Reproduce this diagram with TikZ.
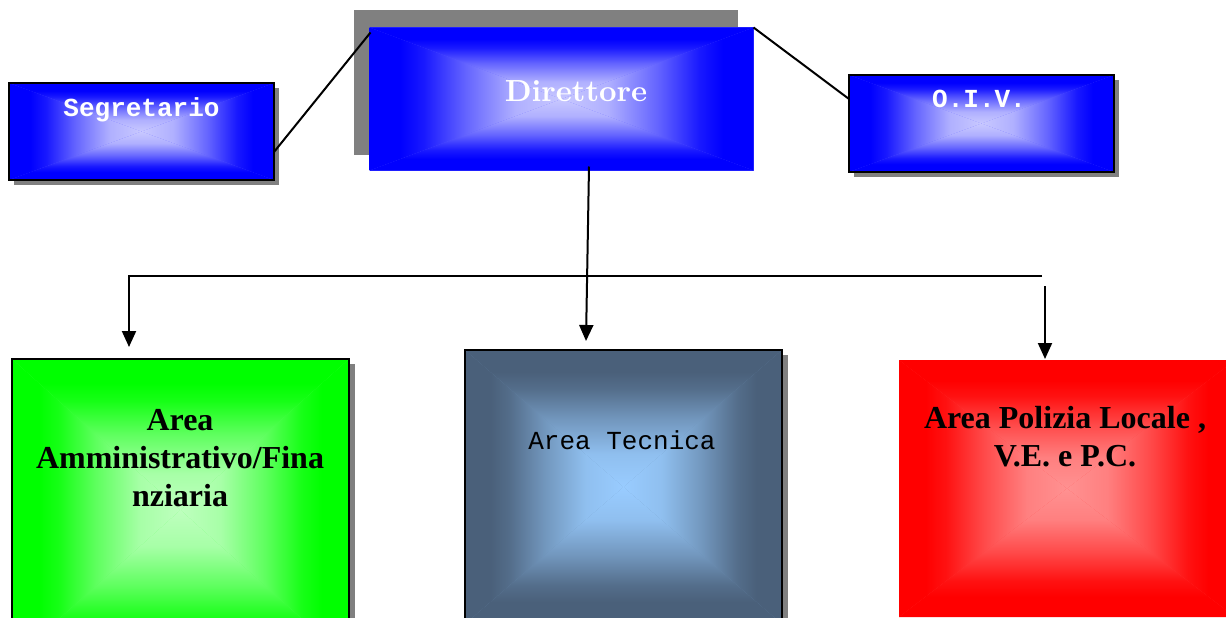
\documentclass[tikz,border=0pt]{standalone}
\usepackage{fontspec}
\newfontfamily\timesf{Liberation Serif}
\newfontfamily\courf{Liberation Mono}
\newfontfamily\dirfont{lmroman10-bold.otf}
\usetikzlibrary{arrows.meta}
\definecolor{bOut}{RGB}{0,0,255}
\definecolor{bIn}{RGB}{200,200,255}
\definecolor{gOut}{RGB}{0,255,0}
\definecolor{gIn}{RGB}{190,255,190}
\definecolor{tOut}{RGB}{74,96,122}
\definecolor{tIn}{RGB}{153,204,255}
\definecolor{rOut}{RGB}{255,0,0}
\definecolor{rIn}{RGB}{255,145,145}
\definecolor{shad}{RGB}{128,128,128}
\newcommand\mkshade[3]{%
  \pgfdeclareverticalshading{#1V}{100bp}{color(0bp)=(#3); color(25bp)=(#3); color(37bp)=(#2!12!#3); color(50bp)=(#2!50!#3); color(61bp)=(#2!88!#3); color(67bp)=(#2); color(100bp)=(#2)}%
  \pgfdeclarehorizontalshading{#1H}{100bp}{color(0bp)=(#2); color(33bp)=(#2); color(39bp)=(#2!88!#3); color(50bp)=(#2!50!#3); color(63bp)=(#2!12!#3); color(75bp)=(#3); color(100bp)=(#3)}%
}
\mkshade{blu}{bOut}{bIn}
\mkshade{grn}{gOut}{gIn}
\mkshade{tec}{tOut}{tIn}
\mkshade{red}{rOut}{rIn}
\newcommand\gradfill[4]{%
  \fill[#3!55!#4] (#1.north west) rectangle (#1.south east);
  \shade[shading=#2V] (#1.north west) -- (#1.north east) -- (#1.center) -- cycle;
  \shade[shading=#2V, shading angle=180] (#1.south west) -- (#1.south east) -- (#1.center) -- cycle;
  \shade[shading=#2H] (#1.north west) -- (#1.south west) -- (#1.center) -- cycle;
  \shade[shading=#2H, shading angle=180] (#1.north east) -- (#1.south east) -- (#1.center) -- cycle;
}
\tikzset{
  frame/.style={inner sep=0pt, outer sep=0pt, draw=none},
  border/.style={draw=black, line width=2pt},
  link/.style={draw=black, line width=2pt},
  arrowlink/.style={draw=black, line width=2pt, -{Triangle[width=14pt,length=16pt]}},
  whitemono/.style={anchor=base, inner sep=0pt, text=white, font=\courf\bfseries\fontsize{26}{30}\selectfont},
  blackserif/.style={anchor=base, inner sep=0pt, text=black, font=\timesf\bfseries\fontsize{32}{38}\selectfont},
}
\begin{document}
\begin{tikzpicture}[x=1pt,y=-1pt]
\useasboundingbox (0,0) rectangle (1226,618);
\clip (0,0) rectangle (1226,618);
% frames
\node[frame, minimum width=265pt, minimum height=97pt] (seg) at (141.5,131.5) {};
\node[frame, minimum width=384pt, minimum height=143pt] (dir) at (561.5,99) {};
\node[frame, minimum width=265pt, minimum height=97pt] (oiv) at (981.5,123.5) {};
\node[frame, minimum width=337pt, minimum height=302pt] (grn) at (180.5,510) {};
\node[frame, minimum width=317pt, minimum height=274pt] (tec) at (623.5,487) {};
\node[frame, minimum width=336pt, minimum height=257pt] (red) at (1067,488.5) {};
% shadows
\fill[shad] ([shift={(5pt,-5pt)}]seg.north west) rectangle ([shift={(5pt,-5pt)}]seg.south east);
\fill[shad] ([shift={(-16pt,17pt)}]dir.north west) rectangle ([shift={(-16pt,16pt)}]dir.south east);
\fill[shad] ([shift={(5pt,-5pt)}]oiv.north west) rectangle ([shift={(5pt,-5pt)}]oiv.south east);
\fill[shad] ([shift={(6pt,-5pt)}]grn.north west) rectangle ([shift={(6pt,-5pt)}]grn.south east);
\fill[shad] ([shift={(6pt,-5pt)}]tec.north west) rectangle ([shift={(6pt,-5pt)}]tec.south east);
% gradients
\gradfill{seg}{blu}{bOut}{bIn}
\gradfill{dir}{blu}{bOut}{bIn}
\gradfill{oiv}{blu}{bOut}{bIn}
\gradfill{grn}{grn}{gOut}{gIn}
\gradfill{tec}{tec}{tOut}{tIn}
\gradfill{red}{red}{rOut}{rIn}
% borders
\draw[border] (seg.north west) rectangle (seg.south east);
\draw[border] (oiv.north west) rectangle (oiv.south east);
\draw[border] (grn.north west) rectangle (grn.south east);
\draw[border] (tec.north west) rectangle (tec.south east);
% texts
\node[whitemono] (segt) at (141.5,116) {Segretario};
\node[anchor=base, inner sep=0pt, text=white, font=\dirfont\fontsize{30.5}{36}\selectfont] (dirt) at (576,101) {Direttore};
\node[whitemono] (oivt) at (979,107) {O.I.V.};
\node[blackserif] (grnt) at (180,430) {\begin{tabular}[t]{@{}c@{}}Area\\Amministrativo/Fina\\nziaria\end{tabular}};
\node[anchor=base, inner sep=0pt, text=black, font=\courf\fontsize{26}{30}\selectfont] (tect) at (622,449) {Area Tecnica};
\node[blackserif] (redt) at (1065,428) {\begin{tabular}[t]{@{}c@{}}Area Polizia Locale ,\\V.E. e P.C.\end{tabular}};
% connectors
\draw[link] ([yshift=-20.5pt]seg.east) -- ([shift={(1pt,-5pt)}]dir.north west);
\draw[link] (dir.north east) -- ([yshift=24.5pt]oiv.west);
\draw[arrowlink] ([xshift=27.5pt,yshift=4pt]dir.south) -- ([xshift=-37.5pt,yshift=9pt]tec.north);
\coordinate (busL) at (129,276);
\coordinate (busR) at (1042,276);
\coordinate (rtop) at (1045,286);
\draw[arrowlink] (busR) -- (busL) -- ([xshift=-51.5pt,yshift=12pt]grn.north);
\draw[arrowlink] (rtop) -- ([xshift=-22pt,yshift=1pt]red.north);
\end{tikzpicture}
\end{document}
